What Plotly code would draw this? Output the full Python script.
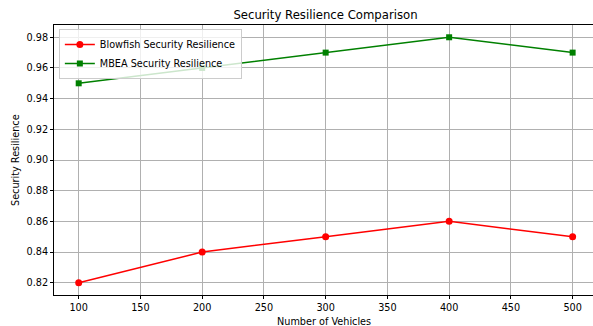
import plotly.graph_objects as go

vehicles = [100, 200, 300, 400, 500]
blowfish = [0.82, 0.84, 0.85, 0.86, 0.85]
mbea = [0.95, 0.96, 0.97, 0.98, 0.97]
x_ticks = [100, 150, 200, 250, 300, 350, 400, 450, 500]
y_ticks = [0.82, 0.84, 0.86, 0.88, 0.90, 0.92, 0.94, 0.96, 0.98]

FONT = "DejaVu Sans"

fig = go.Figure()
fig.add_trace(go.Scatter(x=vehicles, y=blowfish, mode="lines+markers",
                         name="Blowfish Security Resilience",
                         line=dict(color="red", width=1.5),
                         marker=dict(symbol="circle", size=7, color="red")))
fig.add_trace(go.Scatter(x=vehicles, y=mbea, mode="lines+markers",
                         name="MBEA Security Resilience",
                         line=dict(color="green", width=1.5),
                         marker=dict(symbol="square", size=6, color="green")))

axis_common = dict(showline=True, linecolor="black", linewidth=1,
                   ticks="outside", ticklen=3, tickwidth=1, tickcolor="black",
                   showgrid=True, gridcolor="#b0b0b0", gridwidth=0.8,
                   zeroline=False, automargin=False,
                   tickfont=dict(family=FONT, size=9.7, color="#000"))

fig.update_xaxes(range=[80, 516.5], tickvals=x_ticks, mirror=True,
                 ticktext=[str(v) for v in x_ticks], **axis_common)
fig.update_yaxes(range=[0.812, 0.988], tickvals=y_ticks, mirror=False,
                 ticktext=[f"{v:.2f}" for v in y_ticks], **axis_common)

fig.update_layout(
    width=593, height=326,
    margin=dict(l=54, r=0, t=25, b=31),
    paper_bgcolor="white", plot_bgcolor="white",
    font=dict(family=FONT, color="#000"),
    title=dict(text="Security Resilience Comparison", x=(54 + 597) / 2 / 593,
               xanchor="center", y=1 - 15 / 326, yanchor="middle", yref="container",
               font=dict(family=FONT, size=11.7, color="#000")),
    showlegend=True,
    legend=dict(x=0.009, y=0.985, xanchor="left", yanchor="top",
                bgcolor="rgba(255,255,255,0.8)", bordercolor="#cccccc", borderwidth=1,
                font=dict(family=FONT, size=9.7, color="#000"),
                itemwidth=30, tracegroupgap=0),
    annotations=[
        dict(text="Number of Vehicles", xref="paper", yref="paper",
             x=0.5, y=-(321 - 295) / 270, xanchor="center", yanchor="middle",
             showarrow=False, font=dict(family=FONT, size=9.7, color="#000")),
        dict(text="Security Resilience", xref="paper", yref="paper",
             x=-(54 - 15) / 539, y=0.5, xanchor="center", yanchor="middle",
             textangle=-90, showarrow=False,
             font=dict(family=FONT, size=9.7, color="#000")),
    ],
)

fig.write_html("out.html",
               config={"displayModeBar": False},
               post_script="document.body.style.margin='0';document.body.style.padding='0';")
